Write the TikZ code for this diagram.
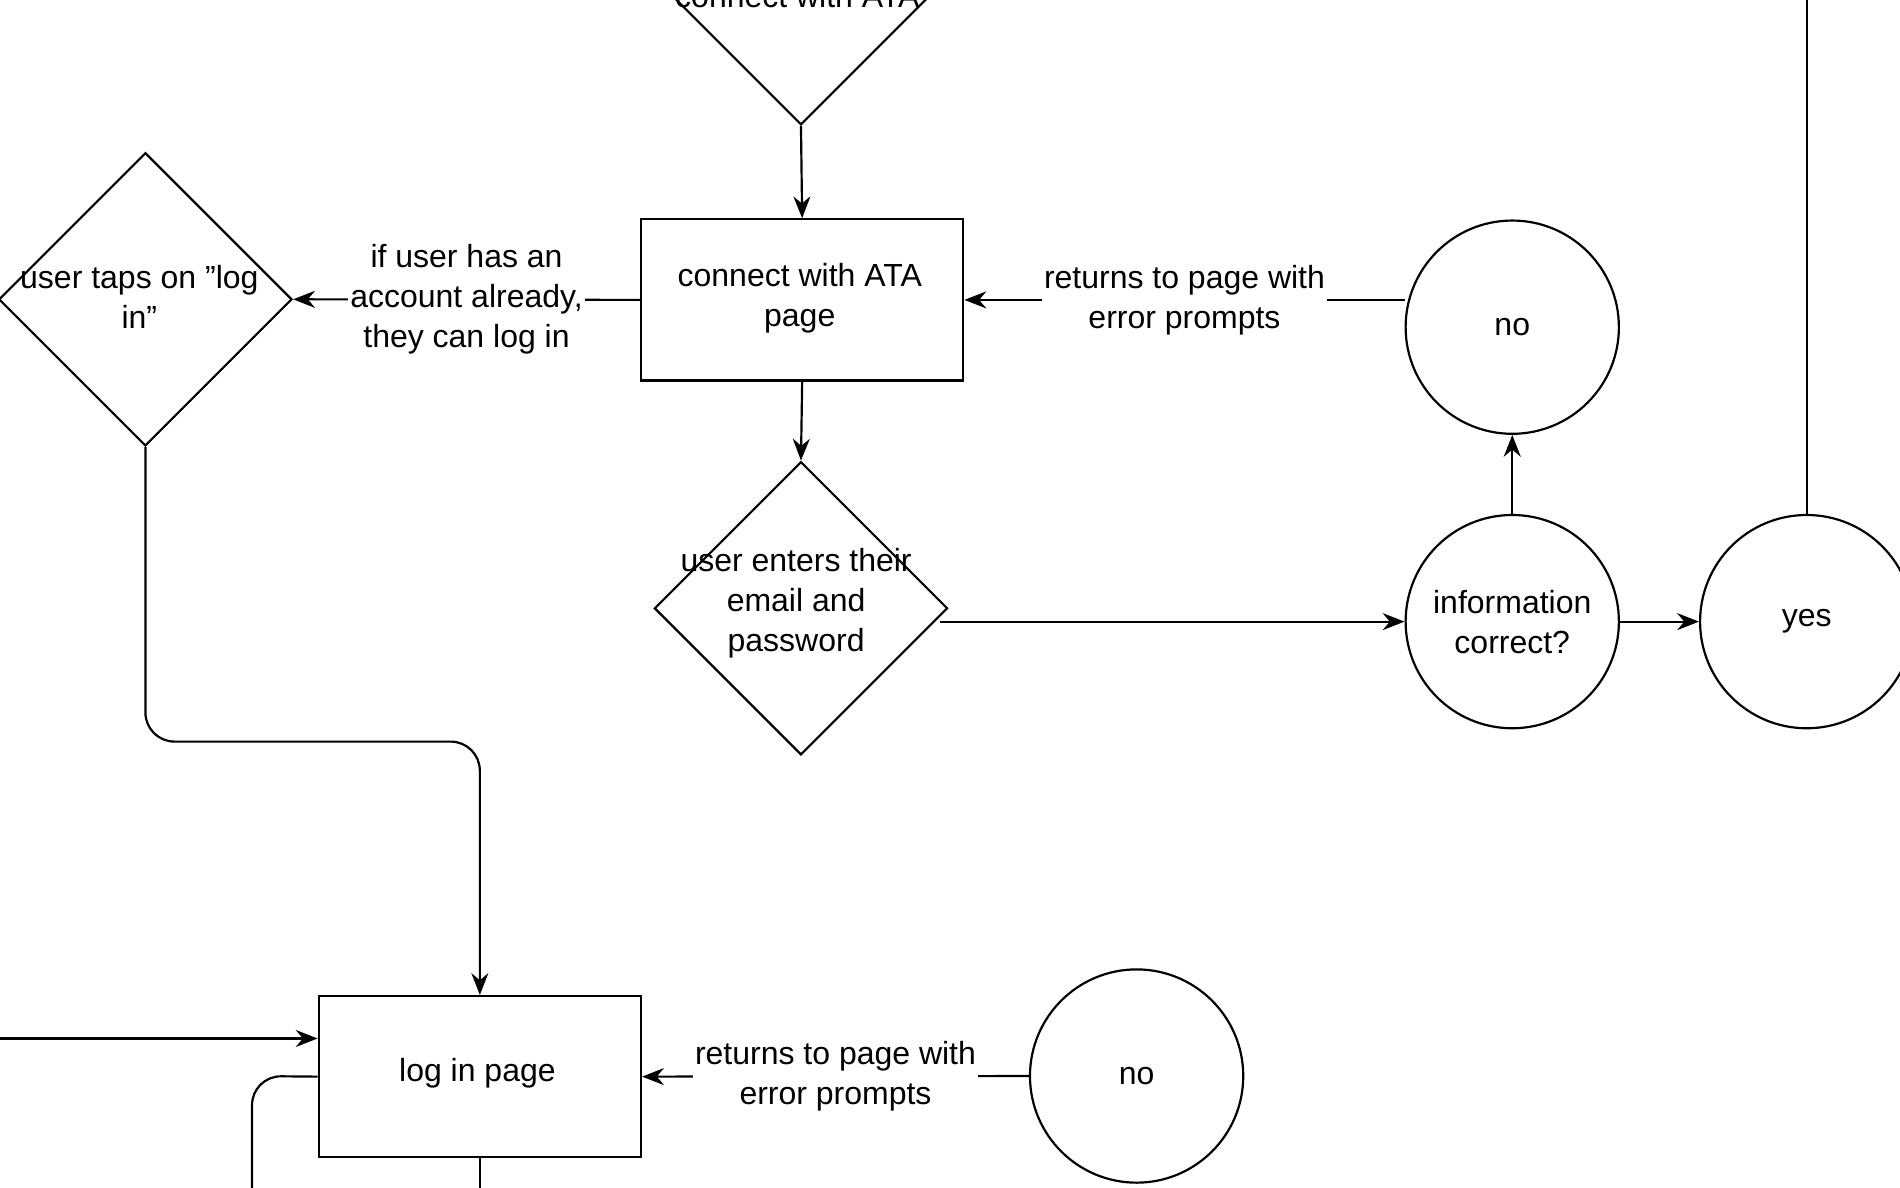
\documentclass[tikz,border=0pt]{standalone}
\usepackage{fontspec}
\setmainfont{Liberation Sans}
\usetikzlibrary{shapes.geometric,arrows.meta,calc}
\begin{document}
\begin{tikzpicture}[x=0.5pt,y=-0.5pt,line width=0.9pt,
  every node/.style={font=\fontsize{13.2}{16.5}\selectfont},
  box/.style={draw,rectangle,minimum width=133pt,minimum height=66.5pt,inner sep=0pt},
  dia/.style={draw,diamond,minimum width=121pt,minimum height=121pt,inner sep=0pt},
  circ/.style={draw,circle,minimum size=88pt,inner sep=0pt,align=center},
  lbl/.style={fill=white,align=center,inner sep=1pt},
  txt/.style={align=center},
  arr/.style={-{Stealth[length=9pt,width=7pt]}}]
\useasboundingbox (0,0) rectangle (1568,980);
\node[dia] (dtop) at (661,-18) {};
\node[txt] (dtopt) at (658,-3) {connect with ATA};
\node[box] (r1) at (662,247.5) {};
\node[txt] (r1t) at (660,246) {connect with ATA\\page};
\node[dia] (dl) at (120,247) {};
\node[txt] (dlt) at (115,245) {user taps on \symbol{34}log\\in\symbol{34}};
\node[circ] (no1) at (1248,270) {no};
\node[dia] (d2) at (661,502) {};
\node[txt] (d2t) at (657,498) {user enters their\\email and\\password};
\node[circ] (info) at (1248,513) {information\\correct?};
\node[circ] (yes) at (1491,513) {yes};
\node[box] (r2) at (396,888.5) {};
\node[txt] (r2t) at (394,886) {log in page};
\node[circ] (no2) at (938,888) {no};
\coordinate (ytop) at (1491,-10);
\coordinate (lin) at (0,857);
\coordinate (lout) at (208,990);
\coordinate (bout) at (396,990);

\draw[arr] (dtop.south) -- (r1.north);
\draw[arr] (r1.west) -- node[lbl]{if user has an\\account already,\\they can log in} (dl.east);
\draw[arr] (no1.west |- r1.east) -- node[lbl]{returns to page with\\error prompts} (r1.east);
\draw[arr] (r1.south) -- (d2.north);
\draw[arr] ($(d2.east)+(-7,11)$) -- (info.west);
\draw[arr] (info.north) -- (no1.south);
\draw[arr] (info.east) -- (yes.west);
\draw (yes.north) -- (ytop);
\draw[arr,rounded corners=12pt] (dl.south) -- (120,612) -- (396,612) -- (r2.north);
\draw[arr] (no2.west) -- node[lbl]{returns to page with\\error prompts} (r2.east);
\draw[arr] (lin) -- (lin -| r2.west);
\draw[rounded corners=12pt] (r2.west) -- (208,888) -- (lout);
\draw (r2.south) -- (bout);
\end{tikzpicture}
\end{document}
